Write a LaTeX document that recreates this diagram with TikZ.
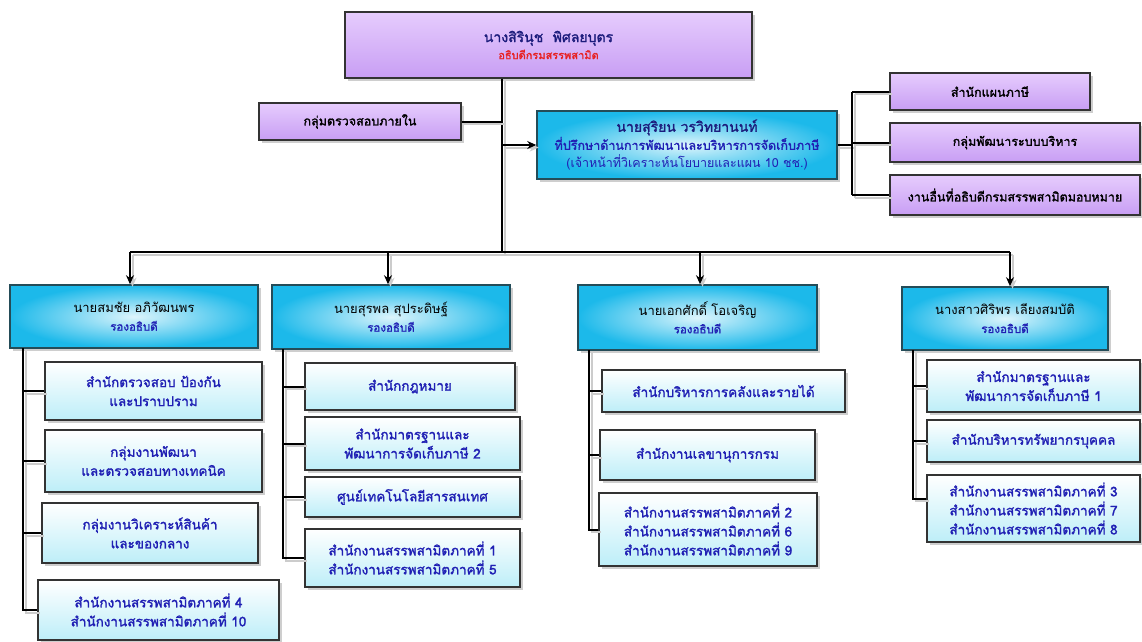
\documentclass[tikz,border=0pt]{standalone}
\usepackage{fontspec}
\setmainfont[Script=Thai, AutoFakeBold=1.6]{Loma}
\usetikzlibrary{arrows.meta,shadows}
\definecolor{purpL}{HTML}{E6CCFD}
\definecolor{purpM}{HTML}{A468EA}
\definecolor{purpB}{HTML}{C89EF4}
\definecolor{cyanO}{HTML}{1CB9EA}
\definecolor{subB}{HTML}{BDEEF8}
\definecolor{edgeT}{HTML}{244C58}
\definecolor{txtblue}{HTML}{2020B4}
\definecolor{txtdark}{HTML}{1C1C7C}
\definecolor{txtred}{HTML}{E82020}
\tikzset{
  basebox/.style={inner sep=0pt, align=center, font=\fontsize{12.5}{18}\selectfont\bfseries,
    drop shadow={shadow xshift=3pt, shadow yshift=-3pt, fill=gray!55, opacity=.7}},
  purpbox/.style={basebox, draw=black!80, line width=1.3pt,
    top color=purpL, middle color=purpM, bottom color=purpB},
  cyanbox/.style={basebox, draw=edgeT, line width=1.6pt,
    inner color=white!85!cyanO, outer color=cyanO},
  subbox/.style={basebox, draw=black!80, line width=1.2pt,
    top color=white, bottom color=subB, text=txtblue,
    font=\fontsize{13.5}{19}\selectfont\bfseries},
  conn/.style={line width=2pt, black,
    preaction={draw=gray!40, line width=2pt, transform canvas={xshift=2.5pt,yshift=-2.5pt}}},
  arr/.style={conn, -{Stealth[length=9pt,width=8pt]}}
}
\begin{document}
\begin{tikzpicture}[x=1pt,y=-1pt]
\useasboundingbox (0,0) rectangle (1142,641);
% connector anchor points
\coordinate (bus) at (502,252);
\coordinate (a1) at (130,252);
\coordinate (a2) at (388,252);
\coordinate (a3) at (700,252);
\coordinate (a4) at (1010,252);
\coordinate (rv) at (852,145);
\coordinate (v1) at (23,348);
\coordinate (v2) at (283,349);
\coordinate (v3) at (589,350);
\coordinate (v4) at (913,350);
% top level
\node[purpbox, minimum width=407pt, minimum height=66pt] (top) at (548.5,45)
  {\textcolor{txtdark}{\fontsize{14}{20}\selectfont นางสิรินุช\ \ พิศลยบุตร}\\[-1pt]
   \textcolor{txtred}{\fontsize{11}{14}\selectfont อธิบดีกรมสรรพสามิต}};
\node[purpbox, minimum width=202pt, minimum height=37pt] (audit) at (360,121.5) {กลุ่มตรวจสอบภายใน};
\node[cyanbox, minimum width=300pt, minimum height=68pt] (adv) at (687,145)
  {\textcolor{txtdark}{\fontsize{14}{17}\selectfont นายสุริยน วรวิทยานนท์}\\
   \textcolor{txtblue}{\fontsize{12.5}{17}\selectfont ที่ปรึกษาด้านการพัฒนาและบริหารการจัดเก็บภาษี}\\
   \textcolor{txtblue}{\fontsize{12.5}{17}\selectfont\mdseries (เจ้าหน้าที่วิเคราะห์นโยบายและแผน 10 ชช.)}};
\node[purpbox, minimum width=200pt, minimum height=37pt] (r1) at (990,91.5) {สำนักแผนภาษี};
\node[purpbox, minimum width=250pt, minimum height=39pt] (r2) at (1015,142.5) {กลุ่มพัฒนาระบบบริหาร};
\node[purpbox, minimum width=250pt, minimum height=40pt] (r3) at (1015,195) {งานอื่นที่อธิบดีกรมสรรพสามิตมอบหมาย};
% deputies
\node[cyanbox, minimum width=248pt, minimum height=63pt] (d1) at (134,316.5)
  {\mdseries\fontsize{13}{20}\selectfont นายสมชัย อภิวัฒนพร\\\textcolor{txtblue}{\bfseries\fontsize{11.5}{18}\selectfont รองอธิบดี}};
\node[cyanbox, minimum width=238pt, minimum height=64pt] (d2) at (391,317)
  {\mdseries\fontsize{13}{20}\selectfont นายสุรพล สุประดิษฐ์\\\textcolor{txtblue}{\bfseries\fontsize{11.5}{18}\selectfont รองอธิบดี}};
\node[cyanbox, minimum width=239pt, minimum height=65pt] (d3) at (697.5,317.5)
  {\mdseries\fontsize{13}{20}\selectfont นายเอกศักดิ์ โอเจริญ\\\textcolor{txtblue}{\bfseries\fontsize{11.5}{18}\selectfont รองอธิบดี}};
\node[cyanbox, minimum width=206pt, minimum height=63pt] (d4) at (1005,318.5)
  {\mdseries\fontsize{13}{20}\selectfont นางสาวศิริพร เลียงสมบัติ\\\textcolor{txtblue}{\bfseries\fontsize{11.5}{18}\selectfont รองอธิบดี}};
% column 1
\node[subbox, minimum width=217pt, minimum height=58pt] (c1a) at (153.5,391) {สำนักตรวจสอบ ป้องกัน\\และปราบปราม};
\node[subbox, minimum width=217pt, minimum height=62pt] (c1b) at (153.5,461) {กลุ่มงานพัฒนา\\และตรวจสอบทางเทคนิค};
\node[subbox, minimum width=216pt, minimum height=60pt] (c1c) at (150,533) {กลุ่มงานวิเคราะห์สินค้า\\และของกลาง};
\node[subbox, minimum width=241pt, minimum height=60pt] (c1d) at (158.5,610) {สำนักงานสรรพสามิตภาคที่ 4\\สำนักงานสรรพสามิตภาคที่ 10};
% column 2
\node[subbox, minimum width=210pt, minimum height=47pt] (c2a) at (410,386.5) {สำนักกฎหมาย};
\node[subbox, minimum width=215pt, minimum height=53pt] (c2b) at (412.5,443.5) {สำนักมาตรฐานและ\\พัฒนาการจัดเก็บภาษี 2};
\node[subbox, minimum width=215pt, minimum height=40pt] (c2c) at (412.5,497) {ศูนย์เทคโนโลยีสารสนเทศ};
\node[subbox, minimum width=215pt, minimum height=58pt] (c2d) at (412.5,558) {สำนักงานสรรพสามิตภาคที่ 1\\สำนักงานสรรพสามิตภาคที่ 5};
% column 3
\node[subbox, minimum width=243pt, minimum height=42pt] (c3a) at (723.5,391) {สำนักบริหารการคลังและรายได้};
\node[subbox, minimum width=215pt, minimum height=50pt] (c3b) at (707.5,455) {สำนักงานเลขานุการกรม};
\node[subbox, minimum width=218pt, minimum height=73pt] (c3c) at (708,529.5) {สำนักงานสรรพสามิตภาคที่ 2\\สำนักงานสรรพสามิตภาคที่ 6\\สำนักงานสรรพสามิตภาคที่ 9};
% column 4
\node[subbox, minimum width=213pt, minimum height=52pt] (c4a) at (1033.5,386) {สำนักมาตรฐานและ\\พัฒนาการจัดเก็บภาษี 1};
\node[subbox, minimum width=213pt, minimum height=42pt] (c4b) at (1033.5,441) {สำนักบริหารทรัพยากรบุคคล};
\node[subbox, minimum width=213pt, minimum height=67pt] (c4c) at (1033.5,508.5) {สำนักงานสรรพสามิตภาคที่ 3\\สำนักงานสรรพสามิตภาคที่ 7\\สำนักงานสรรพสามิตภาคที่ 8};
% connectors
\draw[conn] (top.south -| bus) -- (bus);
\draw[conn] (audit.east) -- (audit.east -| bus);
\draw[arr] (adv.west -| bus) -- (adv.west);
\draw[conn] (adv.east) -- (rv);
\draw[conn] (rv |- r1.west) -- (rv |- r3.west);
\foreach \r in {r1,r2,r3} \draw[conn] (rv |- \r.west) -- (\r.west);
\draw[conn] (a1) -- (a4);
\draw[arr] (a1) -- (a1 |- d1.north);
\draw[arr] (a2) -- (a2 |- d2.north);
\draw[arr] (a3) -- (a3 |- d3.north);
\draw[arr] (a4) -- (a4 |- d4.north);
\draw[conn] (v1) |- (c1d.west);
\foreach \b in {c1a,c1b,c1c} \draw[conn] (v1 |- \b.west) -- (\b.west);
\draw[conn] (v2) |- (c2d.west);
\foreach \b in {c2a,c2b,c2c} \draw[conn] (v2 |- \b.west) -- (\b.west);
\draw[conn] (v3) |- (c3c.west);
\foreach \b in {c3a,c3b} \draw[conn] (v3 |- \b.west) -- (\b.west);
\draw[conn] (v4) |- ([yshift=10pt]c4c.west);
\foreach \b in {c4a,c4b} \draw[conn] (v4 |- \b.west) -- (\b.west);
\end{tikzpicture}
\end{document}
